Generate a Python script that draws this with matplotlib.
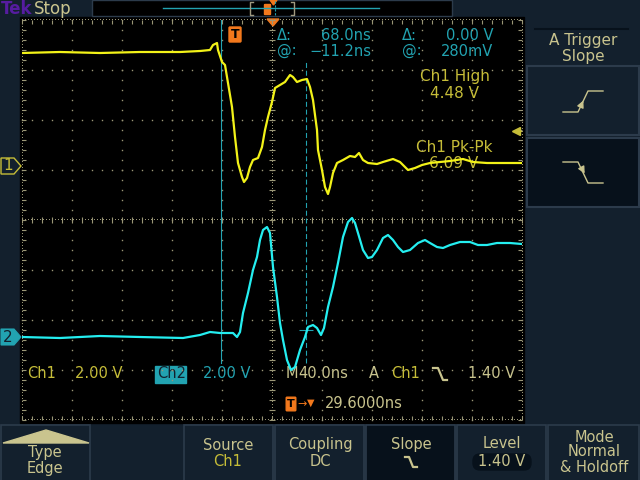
import numpy as np
import matplotlib
matplotlib.use('Agg')
import matplotlib.pyplot as plt
from matplotlib.patches import Rectangle, Polygon, FancyBboxPatch

# Ch1 trace (yellow): time in ns from trigger, volts
ch1_t = [-170.4, -140, -108, -76, -44, -28, -20, -17.6, -14.4, -13.6,
         -10.4, -8, -5.6, -2.4, 0, 2.4, 5.6, 7.2, 9.6, 12,
         14.4, 18.4, 21.6, 24, 26.4, 29.6, 32, 36, 40, 44,
         46.4, 49.6, 53.6, 57.6, 60, 62.4, 65.6, 66.4, 69.6, 72,
         74.4, 76, 78.4, 81.6, 86.4, 92, 96, 99.2, 102.4, 106.4,
         113.6, 118.4, 126.4, 132, 138.4, 144, 149.6, 156, 164, 172,
         182.4, 190.4, 201.6, 212, 220, 229.6]
ch1_v = [4.52, 4.56, 4.52, 4.56, 4.56, 4.60, 4.64, 4.84, 4.92, 4.64,
         4.16, 4.04, 3.32, 2.36, 1.16, 0.12, -0.44, -0.64, -0.48, -0.04,
         0.24, 0.32, 0.76, 1.44, 1.96, 2.56, 3.12, 3.24, 3.36, 3.64,
         3.56, 3.36, 3.44, 3.48, 3.16, 2.64, 1.44, 0.64, -0.16, -0.84,
         -1.12, -0.84, -0.28, 0.12, 0.24, 0.40, 0.36, 0.52, 0.24, 0.12,
         0.08, 0.16, 0.28, 0.16, -0.16, -0.08, 0.04, 0.12, 0.16, 0.20,
         0.28, 0.16, 0.12, 0.12, 0.12, 0.12]

# Ch2 trace (cyan)
ch2_t = [-170.4, -140, -108, -76, -41.6, -28, -20, -12, -1.6, 1.6,
         4, 6.4, 10.4, 14.4, 17.6, 20, 22.4, 25.6, 28, 30.4,
         33.6, 36, 38.4, 41.6, 44.8, 48, 52, 56, 58.4, 62.4,
         65.6, 68.8, 71.2, 74.4, 78.4, 82.4, 86.4, 90.4, 93.6, 96,
         98.4, 102.4, 106.4, 109.6, 113.6, 118.4, 122.4, 126.4, 130.4, 134.4,
         140, 146.4, 152, 156, 161.6, 166.4, 172, 180, 188, 194.4,
         201.6, 209.6, 220, 229.6]
ch2_v = [0, -0.04, 0.04, 0, -0.04, 0.08, 0.20, 0.16, 0.16, 0,
         0.20, 0.96, 1.76, 2.68, 3.20, 3.88, 4.28, 4.40, 4.16, 2.80,
         1.60, 0.56, -0.12, -0.92, -1.32, -1.20, -0.52, 0, 0.40, 0.48,
         0.36, 0.08, 0.36, 1.20, 2.00, 2.96, 4.00, 4.60, 4.76, 4.56,
         4.16, 3.48, 3.16, 3.20, 3.48, 3.96, 4.08, 3.88, 3.60, 3.40,
         3.48, 3.76, 3.88, 3.76, 3.60, 3.56, 3.68, 3.80, 3.80, 3.68,
         3.68, 3.76, 3.76, 3.72]

# scope settings
volts_per_div = 2.0
ns_per_div = 40.0
h_pos = 29.6            # time at screen centre (ns)
ch1_off = 1.08          # ground marker, divisions above centre
ch2_off = -2.34
trig_level = 1.40
cursor_t = [-11.2, 56.8]
cursor_v = 0.28

NAVY = '#13202d'
DARK = '#07111b'
BORDER = '#2c3b4b'
KHAKI = '#c9c48e'
OLIVE = '#c6bd38'
TEAL = '#22a3b1'
YEL = '#f2f218'
CYAN = '#24eef0'
ORANGE = '#f2781c'
GRID = '#9a9676'
PURPLE = '#561ca0'

fig = plt.figure(figsize=(6.4, 4.8), dpi=100, facecolor=NAVY)
bg = fig.add_axes([0, 0, 1, 1])
bg.set_xlim(0, 640)
bg.set_ylim(480, 0)
bg.axis('off')


def txt(x, y, s, c, ha='left', fs=10.5, **kw):
    bg.text(x, y, s, color=c, ha=ha, va='center', fontsize=fs, **kw)


# screen area
L, T, W, H = 22, 20, 500, 400
bg.add_patch(Rectangle((20, 17), 504, 406, color='black', zorder=0))

# top status bar
txt(1, 9, 'Tek', PURPLE, fs=12, fontweight='bold')
txt(34, 9, 'Stop', KHAKI, fs=12)
bg.add_patch(Rectangle((92, 0), 360, 16, facecolor='black', edgecolor=BORDER, lw=1))
bg.plot([163, 379], [8, 8], color=TEAL, lw=1)
bg.plot([253, 250, 250, 253], [2, 2, 15, 15], color='#a09a80', lw=1)
bg.plot([291, 294, 294, 291], [2, 2, 15, 15], color='#a09a80', lw=1)
bg.add_patch(FancyBboxPatch((265, 5), 5, 9, boxstyle='round,pad=0.5', color=ORANGE))
bg.add_patch(Polygon([(270, 0), (277, 0), (273.5, 5)], color=ORANGE))
bg.plot([275, 275], [1, 15], color=TEAL, lw=0.8, ls=(0, (2, 1.5)))

# horizontal position marker and trigger point marker
bg.add_patch(Polygon([(267, 19), (279, 19), (273, 26)], color=ORANGE))
trig_x = L + W / 2 + (0 - h_pos) / ns_per_div * 50
bg.add_patch(FancyBboxPatch((trig_x - 5, 28), 10, 13, boxstyle='round,pad=1', color=ORANGE))
txt(trig_x, 34.5, 'T', 'black', ha='center', fs=9, fontweight='bold')

# channel ground markers
y1 = T + H / 2 - ch1_off * 50
y2 = T + H / 2 - ch2_off * 50
bg.add_patch(Polygon([(1, y1 - 8), (14, y1 - 8), (21, y1), (14, y1 + 8), (1, y1 + 8)],
                     facecolor=NAVY, edgecolor=OLIVE, lw=1))
txt(8, y1, '1', OLIVE, ha='center', fs=11)
bg.add_patch(Polygon([(1, y2 - 8), (14, y2 - 8), (21, y2), (14, y2 + 8), (1, y2 + 8)],
                     facecolor=TEAL, edgecolor=TEAL, lw=0.8))
txt(8, y2, '2', NAVY, ha='center', fs=11)

# cursor readouts
txt(277, 35, 'Δ:', TEAL)
txt(371, 35, '68.0ns', TEAL, ha='right')
txt(277, 51, '@:', TEAL)
txt(371, 51, '\u221211.2ns', TEAL, ha='right')
txt(402, 35, 'Δ:', TEAL)
txt(493, 35, '0.00 V', TEAL, ha='right')
txt(402, 51, '@:', TEAL)
txt(493, 51, '280mV', TEAL, ha='right')

# measurements
txt(455, 77, 'Ch1 High', OLIVE, ha='center', fs=11)
txt(454, 94, '4.48 V', OLIVE, ha='center', fs=11)
txt(454, 148, 'Ch1 Pk-Pk', OLIVE, ha='center', fs=11)
txt(454, 164, '6.09 V', OLIVE, ha='center', fs=11)

# bottom readouts
txt(27, 374, 'Ch1', OLIVE)
txt(75, 374, '2.00 V', OLIVE)
bg.add_patch(Rectangle((155, 366), 31, 17, color=TEAL))
txt(157, 374, 'Ch2', NAVY)
txt(203, 374, '2.00 V', TEAL)
txt(286, 374, 'M', KHAKI)
txt(298, 374, '40.0ns', KHAKI)
txt(369, 374, 'A', KHAKI)
txt(391, 374, 'Ch1', OLIVE)
bg.plot([433, 438, 443, 447], [368, 368, 380, 380], color=KHAKI, lw=1.6)
txt(468, 374, '1.40 V', KHAKI)

bg.add_patch(FancyBboxPatch((287, 398), 8, 12, boxstyle='round,pad=0.8', color=ORANGE))
txt(291, 404, 'T', 'black', ha='center', fs=8, fontweight='bold')
txt(297, 404, '→', ORANGE, fs=8)
txt(307, 403, '▼', ORANGE, fs=7)
txt(325, 404, '29.6000ns', KHAKI)

# bottom menu buttons
buttons = [(1, 90, NAVY), (184, 273, NAVY), (275, 364, NAVY), (366, 455, DARK),
           (457, 546, NAVY), (548, 639, NAVY)]
for x0, x1, fc in buttons:
    bg.add_patch(Rectangle((x0, 425), x1 - x0, 56, facecolor=fc, edgecolor=BORDER, lw=1.2))
bg.add_patch(Polygon([(3, 443), (89, 443), (46, 430)], color=KHAKI))
txt(45, 453, 'Type', KHAKI, ha='center')
txt(45, 468, 'Edge', KHAKI, ha='center')
txt(228, 445, 'Source', KHAKI, ha='center')
txt(228, 462, 'Ch1', OLIVE, ha='center')
txt(320, 445, 'Coupling', KHAKI, ha='center')
txt(320, 462, 'DC', KHAKI, ha='center')
txt(411, 445, 'Slope', KHAKI, ha='center')
bg.plot([405, 409, 413, 417], [457, 457, 467, 467], color=KHAKI, lw=1.6)
txt(502, 443, 'Level', KHAKI, ha='center')
bg.add_patch(FancyBboxPatch((474, 455), 56, 14, boxstyle='round,pad=1,rounding_size=7', color=DARK))
txt(502, 462, '1.40 V', KHAKI, ha='center')
txt(594, 437, 'Mode', KHAKI, ha='center')
txt(594, 452, 'Normal', KHAKI, ha='center')
txt(594, 468, '& Holdoff', KHAKI, ha='center')

# right side menu
bg.plot([535, 628], [29, 29], color=DARK, lw=1.5)
txt(583, 40, 'A Trigger', KHAKI, ha='center', fs=11)
txt(583, 56, 'Slope', KHAKI, ha='center', fs=11)
bg.add_patch(Rectangle((527, 66), 112, 69, facecolor=NAVY, edgecolor=BORDER, lw=1.5))
bg.add_patch(Rectangle((527, 138), 112, 69, facecolor=DARK, edgecolor=BORDER, lw=1.5))
bg.plot([563, 578, 588, 603], [112, 112, 91, 91], color=KHAKI, lw=1)
bg.annotate('', xy=(584.5, 98), xytext=(580, 108),
            arrowprops=dict(arrowstyle='-|>', color=KHAKI, lw=1, mutation_scale=10))
bg.plot([563, 578, 588, 603], [162, 162, 183, 183], color=KHAKI, lw=1)
bg.annotate('', xy=(586, 176), xytext=(580, 165),
            arrowprops=dict(arrowstyle='-|>', color=KHAKI, lw=1, mutation_scale=10))

# graticule
rect = [L / 640, 1 - (T + H) / 480, W / 640, H / 480]
g = fig.add_axes(rect, facecolor='none')
g.set_xlim(-5, 5)
g.set_ylim(-4, 4)
g.axis('off')
mx = np.arange(-5, 5.001, 0.2)
my = np.arange(-4, 4.001, 0.2)
for k in range(-4, 5):
    if k != 0:
        g.plot(np.full_like(my, k), my, 's', ms=1, mew=0, color=GRID, clip_on=False)
for j in range(-3, 4):
    if j != 0:
        g.plot(mx, np.full_like(mx, j), 's', ms=1, mew=0, color=GRID, clip_on=False)
dx = np.arange(-5, 5.001, 0.06)
dy = np.arange(-4, 4.001, 0.06)
g.plot(dx, np.zeros_like(dx), ',', color=GRID, clip_on=False)
g.plot(np.zeros_like(dy), dy, ',', color=GRID, clip_on=False)
g.plot(mx, np.zeros_like(mx), '|', ms=4.5, mew=0.8, color=GRID)
g.plot(np.zeros_like(my), my, '_', ms=4.5, mew=0.8, color=GRID)
for yb in (-4, 4):
    g.plot(dx, np.full_like(dx, yb), ',', color=GRID, clip_on=False)
    g.plot(mx, np.full_like(mx, yb - np.sign(yb) * 0.04), '|', ms=2.5, mew=0.8,
           color=GRID, clip_on=False)
for xb in (-5, 5):
    g.plot(np.full_like(dy, xb), dy, ',', color=GRID, clip_on=False)
    g.plot(np.full_like(my, xb - np.sign(xb) * 0.04), my, '_', ms=2.5, mew=0.8,
           color=GRID, clip_on=False)

# channel axes
xlim = (h_pos - 5 * ns_per_div, h_pos + 5 * ns_per_div)
a1 = fig.add_axes(rect, facecolor='none')
a1.set_xlim(*xlim)
a1.set_ylim(-(4 + ch1_off) * volts_per_div, (4 - ch1_off) * volts_per_div)
a1.axis('off')
a2 = fig.add_axes(rect, facecolor='none')
a2.set_xlim(*xlim)
a2.set_ylim(-(4 + ch2_off) * volts_per_div, (4 - ch2_off) * volts_per_div)
a2.axis('off')

# cursors
a1.axvline(cursor_t[0], ymin=(420 - 363) / 400, ymax=1, color=TEAL, lw=0.8)
a1.axvline(cursor_t[1], ymin=(420 - 363) / 400, ymax=(420 - 60) / 400,
           color=TEAL, lw=0.8, ls=(0, (4.5, 2.5)))
a2.hlines(cursor_v, cursor_t[1] - 5.6, cursor_t[1] + 5.6, color=TEAL, lw=0.8)

# trigger level arrow
a1.plot([xlim[1] - 5], [trig_level], '<', ms=6, color=OLIVE, clip_on=False)
a1.plot([xlim[1] - 5, xlim[1]], [trig_level, trig_level], color=OLIVE, lw=0.8)

a1.plot(ch1_t, ch1_v, color=YEL, lw=1.6)
a2.plot(ch2_t, ch2_v, color=CYAN, lw=1.6)

fig.savefig('out.png', dpi=100, facecolor=NAVY)
